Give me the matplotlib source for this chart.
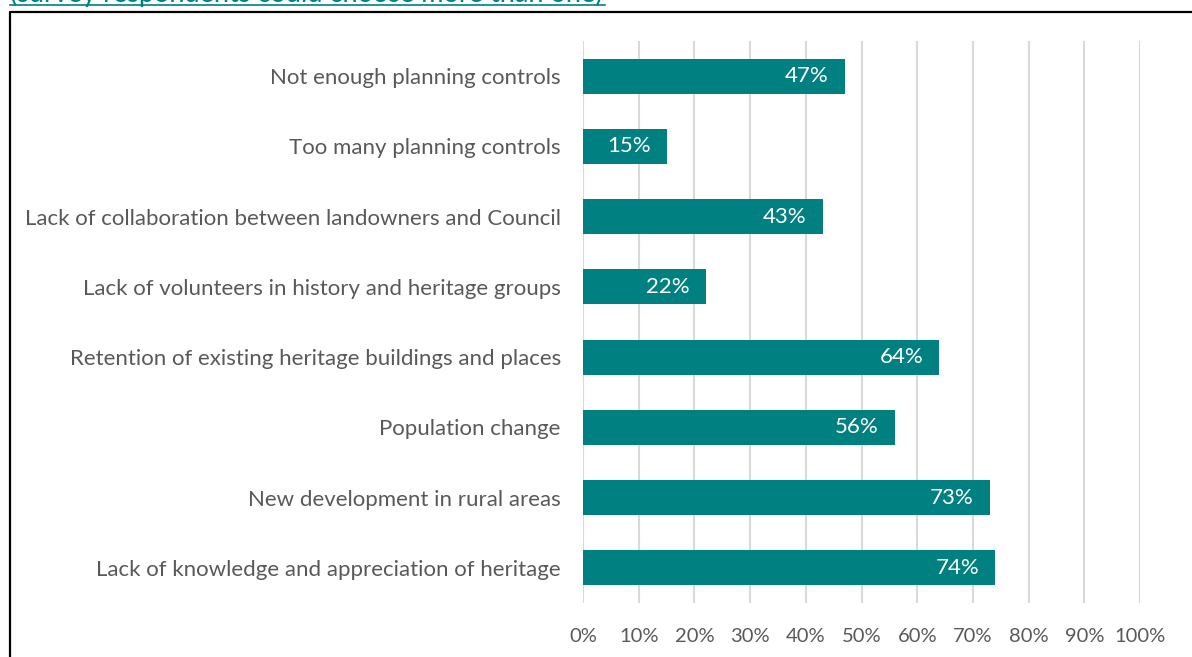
import matplotlib.pyplot as plt
from matplotlib.lines import Line2D

plt.rcParams['font.family'] = ['Lato', 'DejaVu Sans']

# Survey results, top row first
issues = [
    "Not enough planning controls",
    "Too many planning controls",
    "Lack of collaboration between landowners and Council",
    "Lack of volunteers in history and heritage groups",
    "Retention of existing heritage buildings and places",
    "Population change",
    "New development in rural areas",
    "Lack of knowledge and appreciation of heritage",
]
share = [47, 15, 43, 22, 64, 56, 73, 74]
xticks = list(range(0, 101, 10))

teal = "#008080"
grey_text = "#595959"

W, H = 1192, 657
fig = plt.figure(figsize=(W / 100, H / 100), dpi=100)

# axes placed in pixel terms: x 583..1140, y 41..603
left, right, top, bottom = 583, 1140, 41, 603
ax = fig.add_axes([left / W, 1 - bottom / H, (right - left) / W, (bottom - top) / H])

ypos = list(range(len(issues)))
ax.barh(ypos, share, height=0.5, color=teal, zorder=3)
for y, v in zip(ypos, share):
    ax.annotate(f"{v:.0f}%", xy=(v, y), xytext=(-11.5, 0), textcoords="offset points",
                ha="right", va="center", color="white", fontsize=16, zorder=4)

ax.set_xlim(0, 100)
ax.set_ylim(len(issues) - 0.5, -0.5)
ax.set_xticks(xticks)
ax.set_xticklabels([f"{t}%" for t in xticks])
ax.set_yticks(ypos)
ax.set_yticklabels(issues)
ax.grid(axis="x", color="#d9d9d9", linewidth=1.5, zorder=0)
ax.tick_params(axis="x", length=0, pad=18, labelsize=14.5, labelcolor=grey_text)
ax.tick_params(axis="y", length=0, pad=16, labelsize=16, labelcolor=grey_text)
for s in ax.spines.values():
    s.set_visible(False)


def px(x, y):
    return x / W, 1 - y / H


# frame around the chart (left and top edges)
fig.add_artist(Line2D([px(10, H)[0], px(10, 12)[0], px(W, 12)[0]],
                      [px(10, H)[1], px(10, 12)[1], px(W, 12)[1]],
                      color="black", linewidth=1.6))

# caption above the frame, underlined
fig.text(px(10, 0)[0], px(10, 2)[1], "(survey respondents could choose more than one)",
         color=teal, fontsize=19.5, ha="left", va="baseline")
fig.add_artist(Line2D([px(10, 5)[0], px(605, 5)[0]], [px(10, 5)[1], px(605, 5)[1]],
                      color=teal, linewidth=1.2))

fig.savefig("out.png", dpi=100)
